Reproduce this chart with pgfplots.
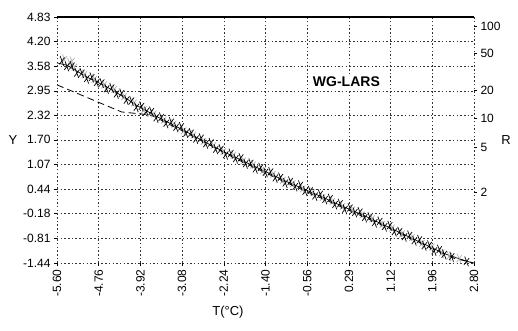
\documentclass[border=0pt]{standalone}
\usepackage{pgfplots}
\pgfplotsset{compat=1.18}
\usepackage{fontspec}
\setmainfont{Liberation Sans}
\begin{document}
\begin{tikzpicture}
\pgfplotsset{
  common/.style={
    scale only axis, width=417pt, height=246pt,
    xmin=-5.6, xmax=2.8, ymin=-1.44, ymax=4.83,
    clip=false,
    tick style={black, line width=0.5pt},
    major tick length=3pt, tick align=outside,
    tick label style={font=\fontsize{12}{13}\selectfont},
  }
}
\begin{axis}[common,
  axis line style={draw=none},
  xtick={-5.60,-4.76,-3.92,-3.08,-2.24,-1.40,-0.56,0.28,1.12,1.96,2.80},
  xticklabels={-5.60,-4.76,-3.92,-3.08,-2.24,-1.40,-0.56,0.29,1.12,1.96,2.80},
  ytick={-1.44,-0.81,-0.18,0.44,1.07,1.70,2.32,2.95,3.58,4.20,4.83},
  yticklabels={-1.44,-0.81,-0.18,0.44,1.07,1.70,2.32,2.95,3.58,4.20,4.83},
  xtick pos=bottom, ytick pos=left,
  xticklabel style={rotate=90, anchor=east},
  grid=major,
  grid style={black!80, dash pattern=on 1.5pt off 2.2pt, line width=0.5pt},
  xlabel={T(°C)},
  xlabel style={at={(axis description cs:0.41,0)}, anchor=center, yshift=-49pt, font=\fontsize{13}{14}\selectfont},
  ylabel={Y},
  ylabel style={at={(axis description cs:0,0.5)}, rotate=-90, anchor=center, xshift=-44pt, font=\fontsize{13}{14}\selectfont},
]
% top border
\addplot[black, line width=1.4pt, forget plot] coordinates {(-5.6,4.83) (2.8,4.83)};
% dashed line
\addplot[black, dash pattern=on 7pt off 4pt, line width=0.8pt] coordinates {
(-5.60,3.10) (-4.30,2.41) (-3.70,2.33) (-3.00,1.88) (-2.00,1.22) (-1.00,0.62) (0.00,0.06) (1.00,-0.50) (2.00,-1.10) (2.40,-1.32) (2.80,-1.44)};
% grey crosses
\addplot[only marks, mark=x, mark size=4pt, gray!60, mark options={line width=0.7pt, yscale=1.5, xscale=0.8, rotate=-10}] coordinates {
(-5.45,3.75) (-5.35,3.66) (-5.25,3.55) (-5.30,3.70) (-5.05,3.36) (-4.85,3.24) (-4.65,3.10)
(-4.45,2.98) (-4.25,2.80) (-4.05,2.64) (-3.85,2.47) (-3.65,2.36) (-3.45,2.20)
(-3.25,2.10) (-3.05,1.93) (-2.85,1.82) (-2.65,1.66) (-2.45,1.55) (-2.25,1.40)
(-2.05,1.30) (-1.85,1.16) (-1.65,1.06) (-1.45,0.91) (-1.25,0.82) (-1.05,0.67)
(-0.85,0.58) (-0.65,0.45) (-0.45,0.36) (-0.25,0.23) (-0.05,0.13) (0.15,0.00)
(0.35,-0.09) (0.55,-0.22) (0.75,-0.31) (0.95,-0.46) (1.15,-0.55) (1.35,-0.70)
(1.55,-0.79) (1.75,-0.94) (1.95,-1.03) (2.15,-1.18) (2.30,-1.27) (2.50,-1.33)};
% black crosses
\addplot[only marks, mark=x, mark size=4pt, black, mark options={line width=0.7pt, yscale=1.5, xscale=0.8, rotate=-10}] coordinates {
(-5.50,3.71) (-5.40,3.57) (-5.30,3.58) (-5.20,3.40) (-5.10,3.40) (-5.00,3.26)
(-4.90,3.29) (-4.80,3.16) (-4.70,3.15) (-4.60,3.00) (-4.50,3.02) (-4.40,2.87)
(-4.30,2.88) (-4.20,2.71) (-4.10,2.69) (-4.00,2.53) (-3.90,2.55) (-3.80,2.42)
(-3.70,2.42) (-3.60,2.26) (-3.50,2.27) (-3.40,2.12) (-3.30,2.15) (-3.20,2.02)
(-3.10,2.03) (-3.00,1.87) (-2.90,1.87) (-2.80,1.72) (-2.70,1.74) (-2.60,1.60)
(-2.50,1.62) (-2.40,1.46) (-2.30,1.46) (-2.20,1.32) (-2.10,1.35) (-2.00,1.22)
(-1.90,1.24) (-1.80,1.09) (-1.70,1.10) (-1.60,0.96) (-1.50,0.99) (-1.40,0.87)
(-1.30,0.88) (-1.20,0.73) (-1.10,0.74) (-1.00,0.60) (-0.90,0.64) (-0.80,0.51)
(-0.70,0.54) (-0.60,0.39) (-0.50,0.40) (-0.40,0.27) (-0.30,0.31) (-0.20,0.18)
(-0.10,0.20) (0.00,0.05) (0.10,0.07) (0.20,-0.07) (0.30,-0.04) (0.40,-0.15)
(0.50,-0.14) (0.60,-0.28) (0.70,-0.27) (0.80,-0.41) (0.90,-0.38) (1.00,-0.51)
(1.10,-0.49) (1.20,-0.64) (1.30,-0.64) (1.40,-0.77) (1.50,-0.74) (1.60,-0.87)
(1.70,-0.85) (1.80,-1.00) (1.90,-0.99) (2.00,-1.13) (2.10,-1.10) (2.20,-1.22)
(2.35,-1.28) (2.65,-1.40)};
% solid fitted line
\addplot[black, line width=0.7pt] coordinates {
(-5.60,3.66) (-5.40,3.60) (-5.20,3.45) (-5.00,3.30) (-4.80,3.18) (-4.60,3.05)
(-4.40,2.90) (-4.20,2.75) (-4.00,2.58) (-3.80,2.44) (-3.60,2.30) (-3.40,2.17)
(-3.20,2.04) (-3.00,1.91) (-2.80,1.77) (-2.60,1.63) (-2.40,1.50) (-2.20,1.37)
(-2.00,1.25) (-1.80,1.13) (-1.60,1.01) (-1.40,0.89) (-1.20,0.77) (-1.00,0.65)
(-0.80,0.54) (-0.60,0.43) (-0.40,0.32) (-0.20,0.21) (0.00,0.09) (0.20,-0.02)
(0.40,-0.13) (0.60,-0.24) (0.80,-0.36) (1.00,-0.48) (1.20,-0.60) (1.40,-0.72)
(1.60,-0.84) (1.80,-0.96) (2.00,-1.08) (2.20,-1.20) (2.50,-1.33) (2.75,-1.43)};
\node[fill=white, inner sep=1.5pt, font=\bfseries\fontsize{14}{15}\selectfont] at (axis cs:0.23,3.17) {WG-LARS};
\end{axis}
\begin{axis}[common,
  axis x line=none, axis y line*=right,
  axis line style={draw=none},
  ytick={0.367,1.500,2.250,2.970,3.902,4.600},
  yticklabels={2,5,10,20,50,100},
  ylabel={R},
  ylabel style={at={(axis description cs:1,0.5)}, rotate=-90, anchor=center, xshift=32pt, font=\fontsize{13}{14}\selectfont},
]
\end{axis}
\pgfresetboundingbox
\path[use as bounding box] (-57pt,-68pt) rectangle (461pt,263pt);
\end{tikzpicture}
\end{document}
